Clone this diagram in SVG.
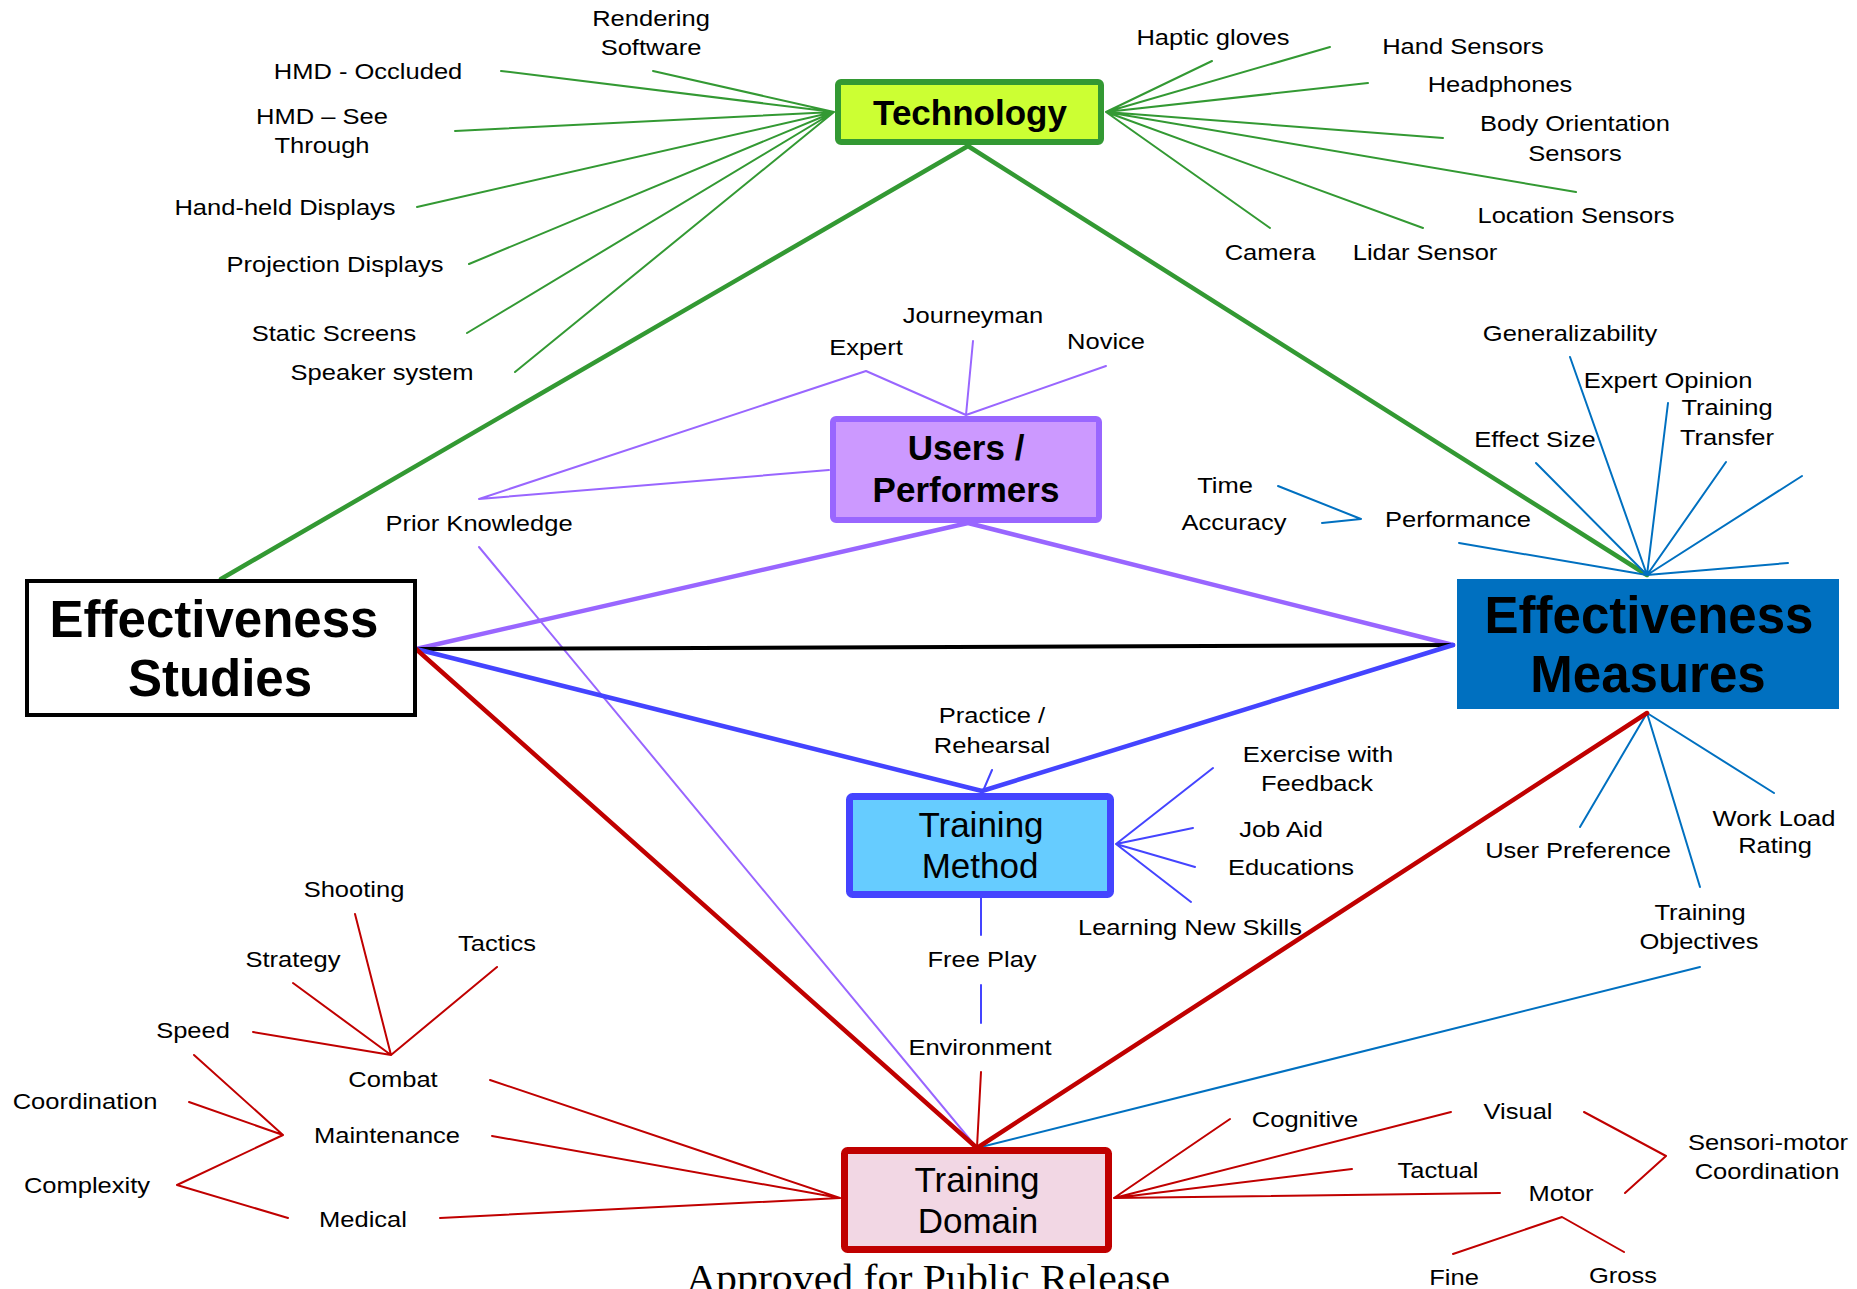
<svg xmlns="http://www.w3.org/2000/svg" width="1857" height="1289" viewBox="0 0 1857 1289">
<style>
.l{font-family:"Liberation Sans",Arial,sans-serif;font-size:22px;fill:#000;text-anchor:middle}
.b{font-family:"Liberation Sans",Arial,sans-serif;font-weight:bold;fill:#000;text-anchor:middle}
.m{font-family:"Liberation Sans",Arial,sans-serif;font-size:35px;fill:#000;text-anchor:middle}
.gt{stroke:#339933;stroke-width:2;fill:none}
.gk{stroke:#339933;stroke-width:4.5;fill:none}
.pt{stroke:#9966ff;stroke-width:2;fill:none}
.pk{stroke:#9966ff;stroke-width:4.5;fill:none}
.bt{stroke:#4444ff;stroke-width:2;fill:none}
.bk{stroke:#4444ff;stroke-width:4.5;fill:none}
.ct{stroke:#0070c0;stroke-width:2;fill:none}
.rt{stroke:#c00000;stroke-width:2;fill:none}
.rk{stroke:#c00000;stroke-width:4.5;fill:none}
.k{stroke:#000;stroke-width:4;fill:none}
</style>
<rect width="1857" height="1289" fill="#fff"/>
<g id="connectors" stroke-linecap="round" stroke-linejoin="round">
  <!-- technology left -->
  <path class="gt" d="M834 112L653 71M834 112L501 71M834 112L455 131M834 112L417 207M834 112L469 264M834 112L467 333M834 112L515 372"/>
  <!-- technology right -->
  <path class="gt" d="M1106 112L1212 61M1106 112L1330 47M1106 112L1368 83M1106 112L1443 138M1106 112L1576 192M1106 112L1423 228M1106 112L1270 228"/>
  <path class="gk" d="M968 146L221 579M968 146L1647 575"/>
  <!-- users -->
  <path class="pk" d="M968 523L416 649M968 523L1453 645"/>
  <path class="pt" d="M829 470L479 499L866 371L966 415M973 341L966 415M1106 366L966 415M479 547L977 1148"/>
  <!-- black -->
  <path class="k" d="M416 649L1453 645"/>
  <!-- training method -->
  <path class="bk" d="M416 649L982 791M1453 645L982 791"/>
  <path class="bt" d="M992 770L983 791M1116 844L1213 768M1116 844L1193 828M1116 844L1195 867M1116 844L1191 902M981 898L981 935M981 985L981 1023"/>
  <!-- effectiveness measures -->
  <path class="ct" d="M1647 575L1570 357M1647 575L1668 403M1647 575L1536 463M1647 575L1726 462M1647 575L1802 476M1647 575L1788 563M1647 575L1459 543M1278 486L1361 519L1322 523M1647 713L1580 827M1647 713L1700 887M1647 713L1774 793M1700 967L977 1148"/>
  <!-- training domain -->
  <path class="rk" d="M416 649L977 1148M1647 713L977 1148"/>
  <path class="rt" d="M981 1072L977 1147M840 1198L490 1080M840 1198L492 1136M840 1198L440 1218M391 1055L253 1032M391 1055L293 983M391 1055L355 914M391 1055L497 967M194 1055L283 1135L177 1185L288 1218M189 1102L283 1135M1114 1198L1230 1119M1114 1198L1451 1112M1114 1198L1352 1169M1114 1198L1500 1193M1584 1112L1666 1156L1625 1193M1453 1254L1562 1217L1624 1252"/>
</g>
<g id="technology">
  <rect x="838" y="82" width="263" height="60" rx="3" fill="#ccff33" stroke="#339933" stroke-width="6"/>
  <text class="b" x="970" y="125" font-size="35">Technology</text>
</g>
<g id="users-performers">
  <rect x="833" y="419" width="266" height="101" rx="3" fill="#cc99ff" stroke="#9966ff" stroke-width="6"/>
  <text class="b" x="966" y="460" font-size="35">Users /</text>
  <text class="b" x="966" y="502" font-size="35">Performers</text>
</g>
<g id="effectiveness-studies">
  <rect x="27" y="581" width="388" height="134" fill="#fff" stroke="#000" stroke-width="4"/>
  <text class="b" x="214" y="637" font-size="51">Effectiveness</text>
  <text class="b" x="220" y="696" font-size="51">Studies</text>
</g>
<g id="effectiveness-measures">
  <rect x="1457" y="579" width="382" height="130" fill="#0070c0"/>
  <text class="b" x="1649" y="633" font-size="51">Effectiveness</text>
  <text class="b" x="1648" y="692" font-size="51">Measures</text>
</g>
<g id="training-method">
  <rect x="849.5" y="796.5" width="261" height="98" rx="3" fill="#66ccff" stroke="#4444ff" stroke-width="7"/>
  <text class="m" x="981" y="837">Training</text>
  <text class="m" x="980" y="878">Method</text>
</g>
<g id="training-domain">
  <rect x="844.5" y="1150.5" width="264" height="99" rx="3" fill="#f2d7e4" stroke="#c00000" stroke-width="7"/>
  <text class="m" x="977" y="1192">Training</text>
  <text class="m" x="978" y="1233">Domain</text>
</g>
<g id="labels">
  <g id="rendering-software"><text class="l" transform="translate(651 26) scale(1.16 1)">Rendering</text><text class="l" transform="translate(651 55) scale(1.16 1)">Software</text></g>
  <g id="hmd-occluded"><text class="l" transform="translate(368 79) scale(1.16 1)">HMD - Occluded</text></g>
  <g id="hmd-see-through"><text class="l" transform="translate(322 124) scale(1.16 1)">HMD – See</text><text class="l" transform="translate(322 153) scale(1.16 1)">Through</text></g>
  <g id="hand-held"><text class="l" transform="translate(285 215) scale(1.16 1)">Hand-held  Displays</text></g>
  <g id="projection"><text class="l" transform="translate(335 272) scale(1.16 1)">Projection Displays</text></g>
  <g id="static-screens"><text class="l" transform="translate(334 341) scale(1.16 1)">Static Screens</text></g>
  <g id="speaker-system"><text class="l" transform="translate(382 380) scale(1.16 1)">Speaker system</text></g>
  <g id="haptic-gloves"><text class="l" transform="translate(1213 45) scale(1.16 1)">Haptic gloves</text></g>
  <g id="hand-sensors"><text class="l" transform="translate(1463 54) scale(1.16 1)">Hand Sensors</text></g>
  <g id="headphones"><text class="l" transform="translate(1500 92) scale(1.16 1)">Headphones</text></g>
  <g id="body-orientation"><text class="l" transform="translate(1575 131) scale(1.16 1)">Body Orientation</text><text class="l" transform="translate(1575 161) scale(1.16 1)">Sensors</text></g>
  <g id="location-sensors"><text class="l" transform="translate(1576 223) scale(1.16 1)">Location Sensors</text></g>
  <g id="lidar-sensor"><text class="l" transform="translate(1425 260) scale(1.16 1)">Lidar Sensor</text></g>
  <g id="camera"><text class="l" transform="translate(1270 260) scale(1.16 1)">Camera</text></g>
  <g id="generalizability"><text class="l" transform="translate(1570 341) scale(1.16 1)">Generalizability</text></g>
  <g id="expert-opinion"><text class="l" transform="translate(1668 388) scale(1.16 1)">Expert Opinion</text></g>
  <g id="training-transfer"><text class="l" transform="translate(1727 415) scale(1.16 1)">Training</text><text class="l" transform="translate(1727 445) scale(1.16 1)">Transfer</text></g>
  <g id="effect-size"><text class="l" transform="translate(1535 447) scale(1.16 1)">Effect Size</text></g>
  <g id="performance"><text class="l" transform="translate(1458 527) scale(1.16 1)">Performance</text></g>
  <g id="time"><text class="l" transform="translate(1225 493) scale(1.16 1)">Time</text></g>
  <g id="accuracy"><text class="l" transform="translate(1234 530) scale(1.16 1)">Accuracy</text></g>
  <g id="expert"><text class="l" transform="translate(866 355) scale(1.16 1)">Expert</text></g>
  <g id="journeyman"><text class="l" transform="translate(973 323) scale(1.16 1)">Journeyman</text></g>
  <g id="novice"><text class="l" transform="translate(1106 349) scale(1.16 1)">Novice</text></g>
  <g id="prior-knowledge"><text class="l" transform="translate(479 531) scale(1.16 1)">Prior Knowledge</text></g>
  <g id="practice-rehearsal"><text class="l" transform="translate(992 723) scale(1.16 1)">Practice /</text><text class="l" transform="translate(992 753) scale(1.16 1)">Rehearsal</text></g>
  <g id="exercise-feedback"><text class="l" transform="translate(1318 762) scale(1.16 1)">Exercise with</text><text class="l" transform="translate(1317 791) scale(1.16 1)">Feedback</text></g>
  <g id="job-aid"><text class="l" transform="translate(1281 837) scale(1.16 1)">Job Aid</text></g>
  <g id="educations"><text class="l" transform="translate(1291 875) scale(1.16 1)">Educations</text></g>
  <g id="learning-new-skills"><text class="l" transform="translate(1190 935) scale(1.16 1)">Learning New Skills</text></g>
  <g id="free-play"><text class="l" transform="translate(982 967) scale(1.16 1)">Free Play</text></g>
  <g id="environment"><text class="l" transform="translate(980 1055) scale(1.16 1)">Environment</text></g>
  <g id="user-preference"><text class="l" transform="translate(1578 858) scale(1.16 1)">User Preference</text></g>
  <g id="work-load-rating"><text class="l" transform="translate(1774 826) scale(1.16 1)">Work Load</text><text class="l" transform="translate(1775 853) scale(1.16 1)">Rating</text></g>
  <g id="training-objectives"><text class="l" transform="translate(1700 920) scale(1.16 1)">Training</text><text class="l" transform="translate(1699 949) scale(1.16 1)">Objectives</text></g>
  <g id="shooting"><text class="l" transform="translate(354 897) scale(1.16 1)">Shooting</text></g>
  <g id="strategy"><text class="l" transform="translate(293 967) scale(1.16 1)">Strategy</text></g>
  <g id="tactics"><text class="l" transform="translate(497 951) scale(1.16 1)">Tactics</text></g>
  <g id="speed"><text class="l" transform="translate(193 1038) scale(1.16 1)">Speed</text></g>
  <g id="combat"><text class="l" transform="translate(393 1087) scale(1.16 1)">Combat</text></g>
  <g id="coordination"><text class="l" transform="translate(85 1109) scale(1.16 1)">Coordination</text></g>
  <g id="maintenance"><text class="l" transform="translate(387 1143) scale(1.16 1)">Maintenance</text></g>
  <g id="complexity"><text class="l" transform="translate(87 1193) scale(1.16 1)">Complexity</text></g>
  <g id="medical"><text class="l" transform="translate(363 1227) scale(1.16 1)">Medical</text></g>
  <g id="cognitive"><text class="l" transform="translate(1305 1127) scale(1.16 1)">Cognitive</text></g>
  <g id="visual"><text class="l" transform="translate(1518 1119) scale(1.16 1)">Visual</text></g>
  <g id="tactual"><text class="l" transform="translate(1438 1178) scale(1.16 1)">Tactual</text></g>
  <g id="motor"><text class="l" transform="translate(1561 1201) scale(1.16 1)">Motor</text></g>
  <g id="sensori-motor"><text class="l" transform="translate(1768 1150) scale(1.16 1)">Sensori-motor</text><text class="l" transform="translate(1767 1179) scale(1.16 1)">Coordination</text></g>
  <g id="fine"><text class="l" transform="translate(1454 1285) scale(1.16 1)">Fine</text></g>
  <g id="gross"><text class="l" transform="translate(1623 1283) scale(1.16 1)">Gross</text></g>
</g>
<g id="footer">
  <text transform="translate(928 1292) scale(1.02 1)" font-family="'Liberation Serif','Times New Roman',serif" font-size="41" text-anchor="middle" fill="#000">Approved for Public Release</text>
</g>
</svg>
